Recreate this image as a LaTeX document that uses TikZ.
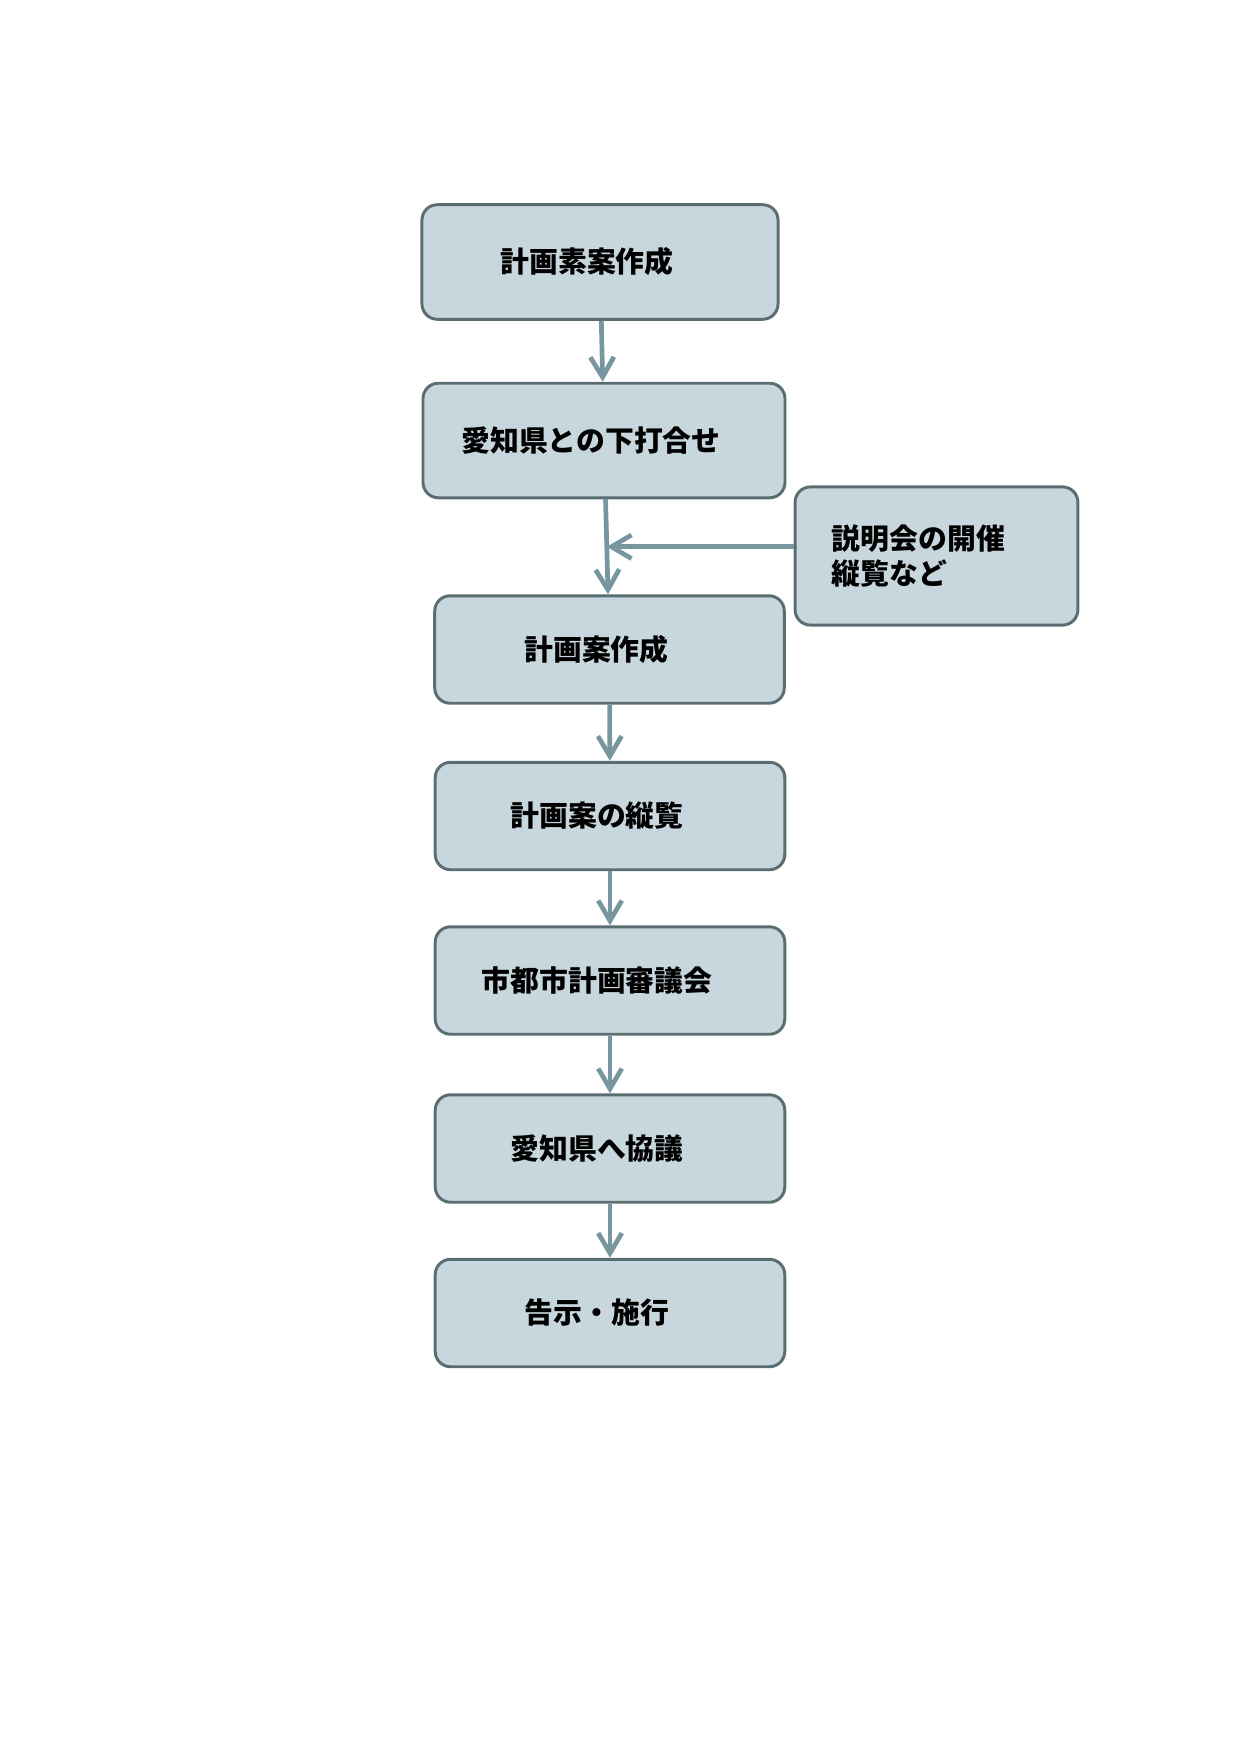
\documentclass[tikz,border=0pt]{standalone}
\usepackage{fontspec}
\setmainfont{Noto Sans CJK JP}
\usepackage{tikz}
\usetikzlibrary{arrows.meta,positioning,calc}

\definecolor{boxfill}{HTML}{C8D7DD}
\definecolor{boxline}{HTML}{5A6E72}
\definecolor{flowline}{HTML}{7896A0}

\begin{document}
\begin{tikzpicture}[
            x=0.16935mm,y=-0.16935mm,
            box/.style={draw=boxline,fill=boxfill,line width=0.5mm,rounded corners=2.6mm,minimum width=59.2mm,minimum height=18.2mm,align=center,font=\fontsize{13.9pt}{17pt}\selectfont\bfseries,execute at end node={\hspace*{4.4mm}}},
            wide/.style={box,minimum width=60.3mm,minimum height=19.4mm},
            note/.style={box,minimum width=47.9mm,minimum height=23.4mm,text width=35.4mm,align=left,execute at end node={}},
            link/.style={draw=flowline,line width=0.8mm,-{Straight Barb[length=3.4mm,width=4mm]}},
            every edge/.style={link}
          ]
          \useasboundingbox (0,0) rectangle (1240,1754);

          %steps
          \node[wide] (sketch) at (600,262) {計画素案作成};
          \node[wide,minimum width=61.3mm] (prior) at (604,440.5) {愛知県との下打合せ};
          \node[box] (draft) at (609.5,649.5) {計画案作成};
          \node[box] (review) at (610,816) {計画案の縦覧};
          \node[box] (council) at (610,980.5) {市都市計画審議会};
          \node[box] (consult) at (610,1148.5) {愛知県へ協議};
          \node[box] (notice) at (610,1313) {告示・施行};

          %side note
          \node[note] (meeting) at (936.5,556) {説明会の開催\\縦覧など};
          \coordinate (join) at ($(prior.south)!.5!(draft.north)$);

          %arrows
          \path
          (sketch) edge (prior)
          (prior) edge (draft)
          (meeting.west |- join) edge (join)
          (draft) edge (review)
          (review) edge (council)
          (council) edge (consult)
          (consult) edge (notice)
          ;

      \end{tikzpicture}
\end{document}
